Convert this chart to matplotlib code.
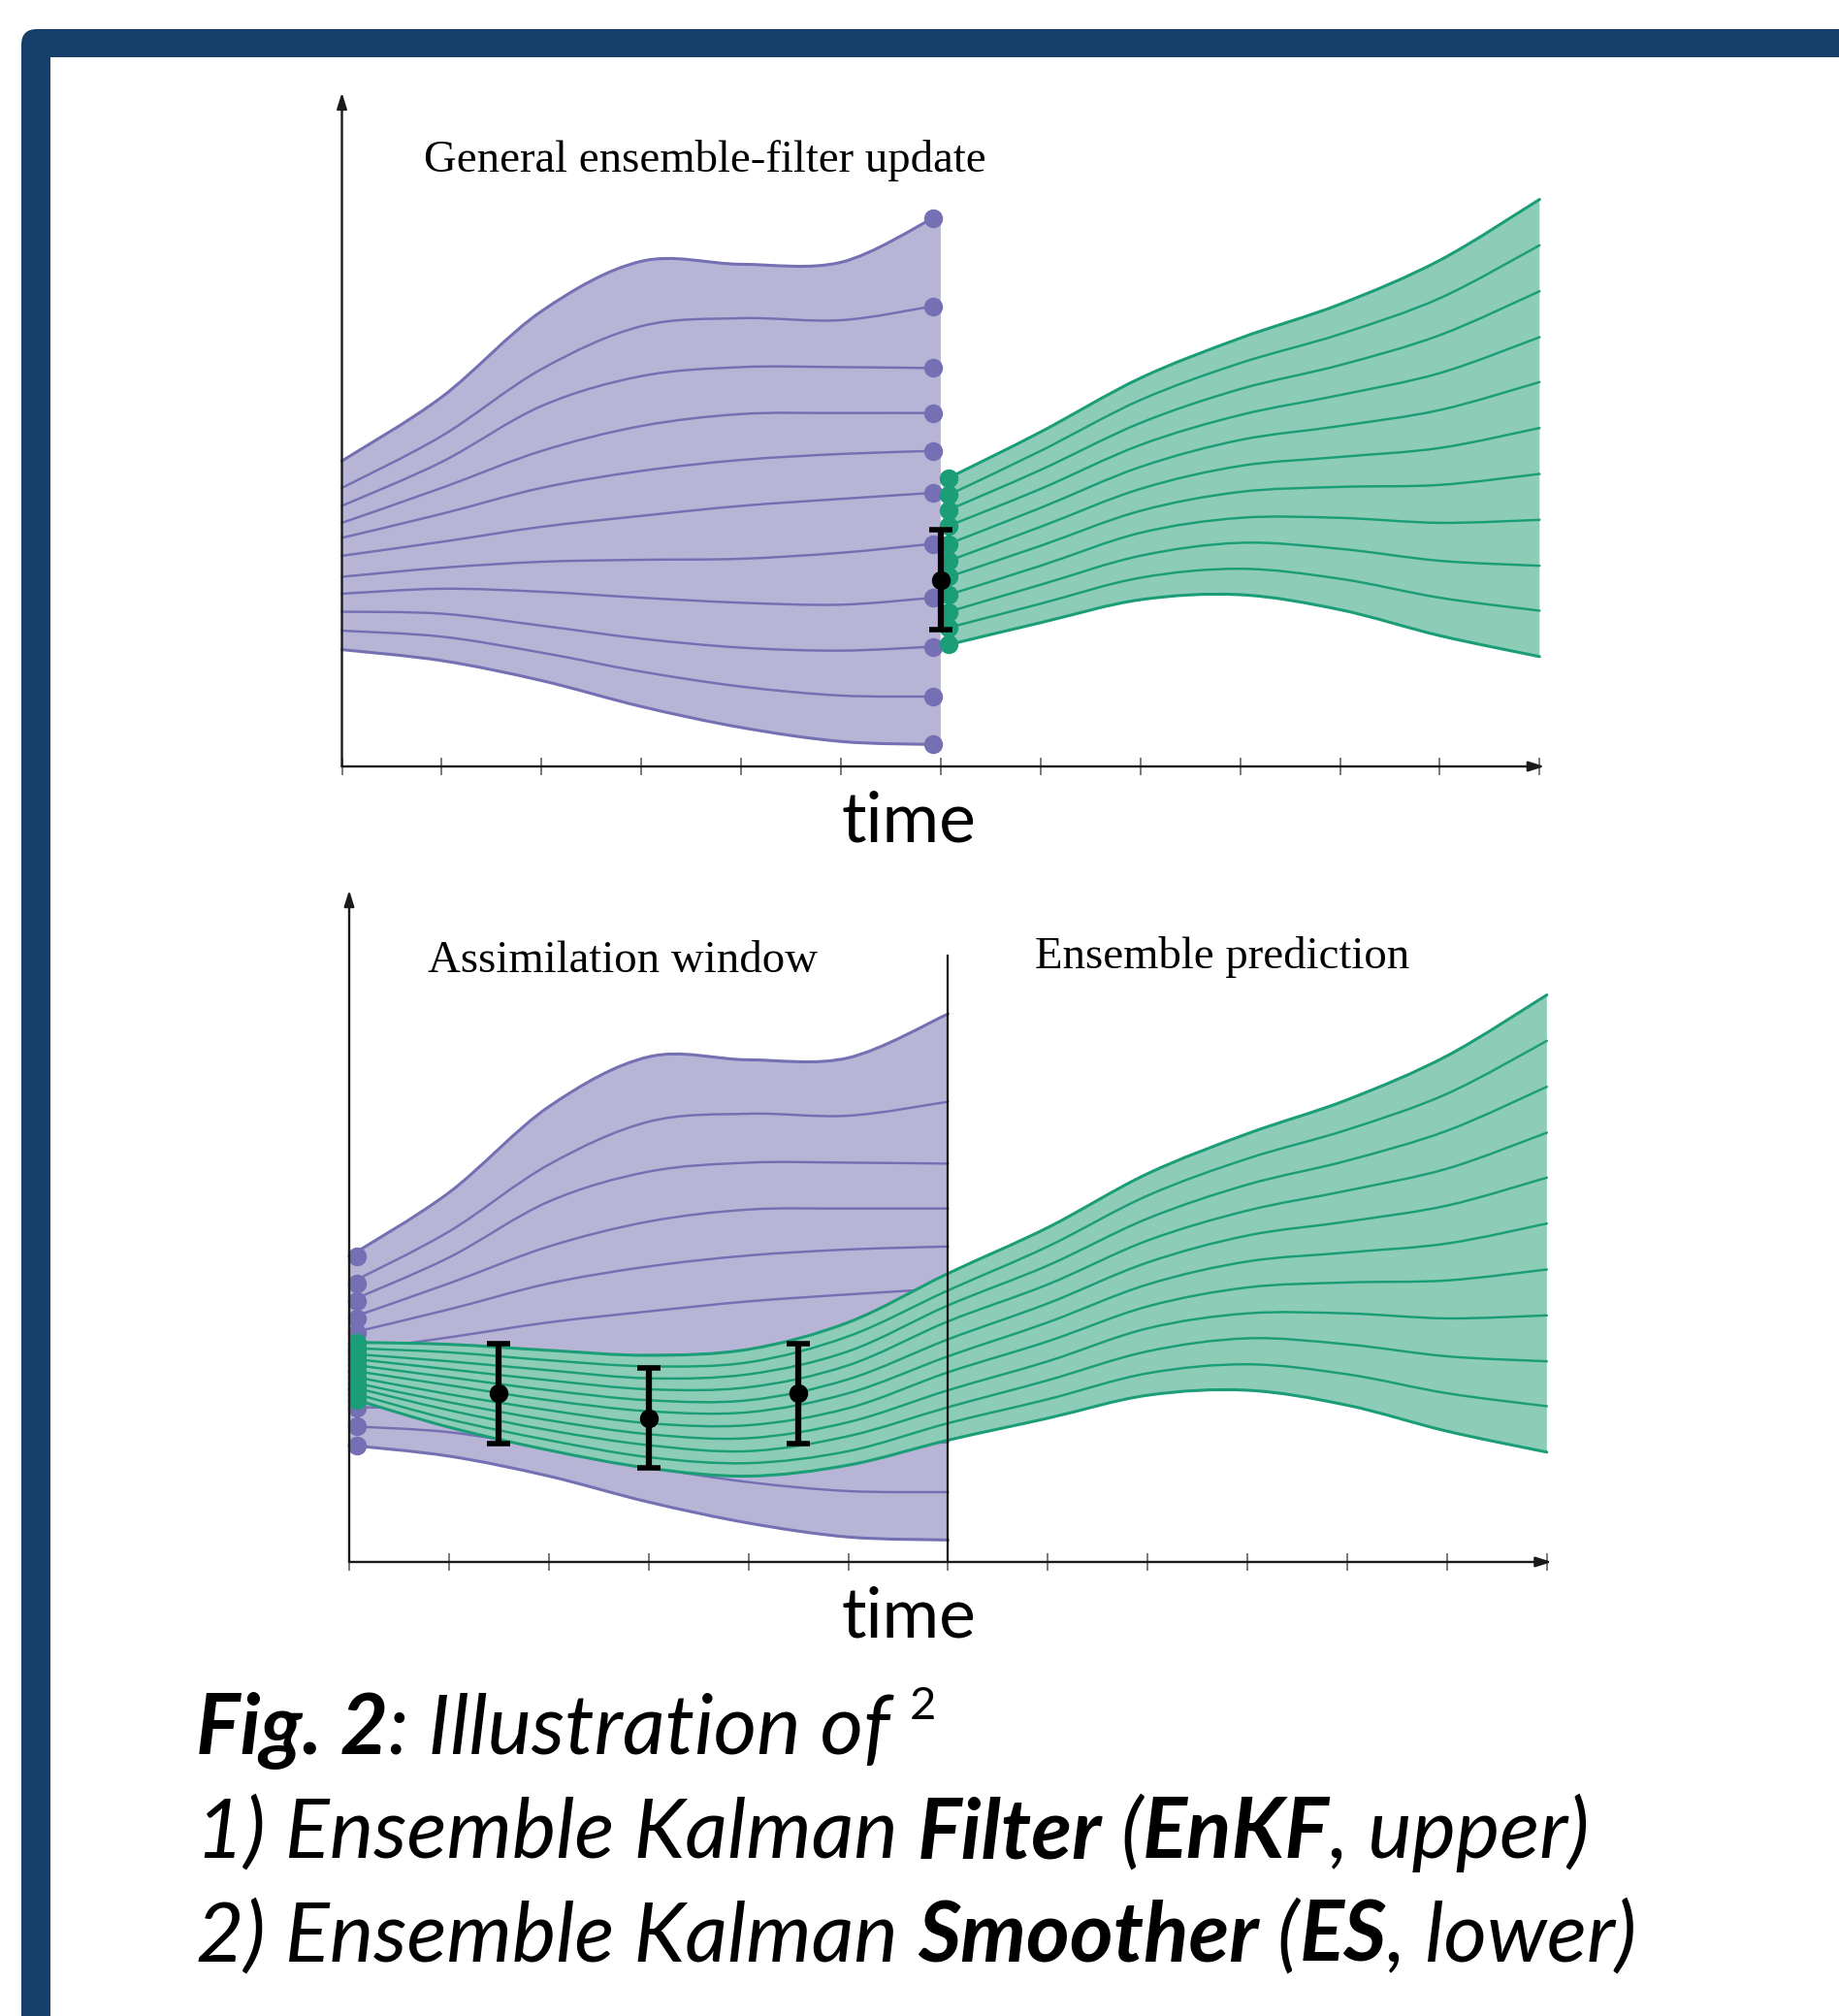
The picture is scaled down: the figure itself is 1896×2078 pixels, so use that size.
import numpy as np
import matplotlib
matplotlib.use("Agg")
import matplotlib.pyplot as plt
from matplotlib.path import Path
from matplotlib.patches import PathPatch, FancyBboxPatch, Rectangle
from matplotlib.transforms import IdentityTransform
from matplotlib.font_manager import FontProperties

# ---------------------------------------------------------------- data
TICK_TIMES = list(range(13))

# prior ensemble (purple), 11 members, values at the knot times
PRIOR_TIMES_FILTER = [0, 1, 2, 3, 4, 5, 5.92]
PRIOR_TIMES_SMOOTHER = [0, 1, 2, 3, 4, 5, 6]
PRIOR_MEMBERS = [
    [3.06, 3.70, 4.56, 5.06, 5.03, 5.05, 5.49],
    [2.79, 3.31, 3.98, 4.41, 4.49, 4.47, 4.61],
    [2.61, 3.05, 3.61, 3.91, 4.00, 4.00, 3.99],
    [2.44, 2.79, 3.16, 3.41, 3.53, 3.54, 3.54],
    [2.29, 2.53, 2.79, 2.96, 3.07, 3.13, 3.16],
    [2.11, 2.25, 2.40, 2.51, 2.61, 2.68, 2.74],
    [1.90, 1.99, 2.05, 2.07, 2.08, 2.14, 2.23],
    [1.73, 1.78, 1.75, 1.69, 1.64, 1.62, 1.69],
    [1.55, 1.53, 1.41, 1.28, 1.19, 1.16, 1.20],
    [1.36, 1.30, 1.14, 0.95, 0.80, 0.71, 0.70],
    [1.17, 1.06, 0.86, 0.60, 0.39, 0.25, 0.22],
]
PRIOR_DOT_TIME_FILTER = 5.92
PRIOR_DOT_TIME_SMOOTHER = 0.08

# forecast ensemble (green) after the update
FORECAST_TIMES_FILTER = [6.08, 7, 8, 9, 10, 11, 12]
FORECAST_TIMES_SMOOTHER = [6, 7, 8, 9, 10, 11, 12]
FORECAST_MEMBERS = [
    [2.89, 3.35, 3.89, 4.29, 4.63, 5.07, 5.68],
    [2.72, 3.16, 3.67, 4.04, 4.33, 4.69, 5.22],
    [2.57, 2.97, 3.44, 3.78, 4.02, 4.32, 4.76],
    [2.41, 2.78, 3.22, 3.52, 3.72, 3.94, 4.30],
    [2.23, 2.59, 3.00, 3.27, 3.41, 3.57, 3.85],
    [2.06, 2.40, 2.78, 3.01, 3.10, 3.19, 3.39],
    [1.90, 2.21, 2.56, 2.75, 2.80, 2.82, 2.93],
    [1.72, 2.01, 2.34, 2.49, 2.49, 2.44, 2.47],
    [1.55, 1.82, 2.11, 2.24, 2.18, 2.06, 2.01],
    [1.39, 1.63, 1.89, 1.98, 1.88, 1.69, 1.56],
    [1.22, 1.44, 1.67, 1.72, 1.57, 1.31, 1.10],
]
FORECAST_DOT_TIME_FILTER = 6.08

# smoother analysis ensemble (green) inside the assimilation window
ANALYSIS_TIMES = [0.08, 1, 2, 3, 4, 5]
ANALYSIS_MEMBERS = [
    [2.20, 2.18, 2.12, 2.07, 2.13, 2.40],
    [2.14, 2.10, 2.02, 1.96, 2.00, 2.26],
    [2.08, 2.01, 1.92, 1.84, 1.88, 2.11],
    [2.03, 1.93, 1.82, 1.73, 1.75, 1.97],
    [1.97, 1.85, 1.72, 1.62, 1.62, 1.83],
    [1.91, 1.77, 1.62, 1.51, 1.50, 1.69],
    [1.85, 1.68, 1.52, 1.39, 1.37, 1.54],
    [1.79, 1.60, 1.42, 1.28, 1.24, 1.40],
    [1.74, 1.52, 1.32, 1.17, 1.11, 1.26],
    [1.68, 1.43, 1.22, 1.05, 0.99, 1.11],
    [1.62, 1.35, 1.12, 0.94, 0.86, 0.97],
]
ANALYSIS_DOT_TIME = 0.08

# observations with error bars
OBS_FILTER_T = [6.0]
OBS_FILTER_Y = [1.87]
OBS_FILTER_ERR = [0.5]
OBS_SMOOTHER_T = [1.5, 3.0, 4.5]
OBS_SMOOTHER_Y = [1.69, 1.44, 1.69]
OBS_SMOOTHER_ERR = [0.5, 0.5, 0.5]

WINDOW_END = 6.0
TITLE_TOP = "General ensemble-filter update"
LABEL_WINDOW = "Assimilation window"
LABEL_PREDICTION = "Ensemble prediction"
X_LABEL = "time"
CAPTION_LINES = [
    [("Fig. 2", "bold"), (": Illustration of ", "normal"), ("2", "sup")],
    [("1) Ensemble Kalman ", "normal"), ("Filter", "bold"), (" (", "normal"),
     ("EnKF", "bold"), (", upper)", "normal")],
    [("2) Ensemble Kalman ", "normal"), ("Smoother", "bold"), (" (", "normal"),
     ("ES", "bold"), (", lower)", "normal")],
]

# ---------------------------------------------------------------- style
W_PX, H_PX, DPI = 1896, 2078, 100
NAVY = "#173f6b"
P_LINE, P_FILL = "#7570b3", "#b8b4d6"
G_LINE, G_FILL = "#1b9e77", "#8dcdb8"
UNIT = 102.9  # pixels per data unit
XLIM = (-0.4, 12.4)
YLIM = (-0.8, 7.0)
SERIF = ["Liberation Serif", "DejaVu Serif"]
SANS = ["Lato", "DejaVu Sans"]
DOT_MS = 14

fig = plt.figure(figsize=(W_PX / DPI, H_PX / DPI), dpi=DPI)
ID = IdentityTransform()

# frame
fig.add_artist(FancyBboxPatch((22, -200), W_PX + 300, H_PX - 30 + 200,
                              boxstyle="round,pad=0,rounding_size=16",
                              transform=ID, fc=NAVY, ec="none", zorder=-20))
fig.add_artist(Rectangle((52, -200), W_PX + 300, H_PX - 59 + 200,
                         transform=ID, fc="white", ec="none", zorder=-19))


def make_axes(origin_x, origin_top):
    left = origin_x + XLIM[0] * UNIT
    bottom_top = origin_top - YLIM[0] * UNIT
    w = (XLIM[1] - XLIM[0]) * UNIT
    h = (YLIM[1] - YLIM[0]) * UNIT
    ax = fig.add_axes([left / W_PX, 1 - bottom_top / H_PX, w / W_PX, h / H_PX])
    ax.set_xlim(XLIM)
    ax.set_ylim(YLIM)
    ax.patch.set_visible(False)
    for s in ax.spines.values():
        s.set_visible(False)
    ax.spines["bottom"].set_position(("data", 0))
    ax.set_xticks(TICK_TIMES)
    ax.set_yticks([])
    ax.tick_params(axis="x", direction="inout", length=13, width=1.3,
                   color="#707070", labelbottom=False)
    return ax


def draw_axis_arrows(ax, ytop):
    arrow = dict(arrowstyle="-|>,head_length=0.7,head_width=0.22", color="#1a1a1a",
                 lw=1.7, shrinkA=0, shrinkB=0, mutation_scale=14)
    ax.annotate("", xy=(12.05, 0), xytext=(0, 0), arrowprops=arrow, zorder=9)
    ax.annotate("", xy=(0, ytop), xytext=(0, 0), arrowprops=arrow, zorder=9)


def smooth_vertices(xs, ys):
    pts = np.column_stack([xs, ys]).astype(float)
    n = len(pts)
    verts = [pts[0]]
    for i in range(n - 1):
        p0 = pts[i - 1] if i > 0 else pts[i]
        p1, p2 = pts[i], pts[i + 1]
        p3 = pts[i + 2] if i + 2 < n else pts[i + 1]
        verts += [p1 + (p2 - p0) / 6.0, p2 - (p3 - p1) / 6.0, p2]
    return np.array(verts)


def draw_member(ax, xs, ys, color, lw, z):
    v = smooth_vertices(xs, ys)
    codes = [Path.MOVETO] + [Path.CURVE4] * (len(v) - 1)
    ax.add_patch(PathPatch(Path(v, codes), fill=False, ec=color, lw=lw,
                           zorder=z, capstyle="round"))


def draw_band(ax, xs, top, bot, color, z, right_x=None):
    vt = smooth_vertices(xs, top)
    vb = smooth_vertices(xs, bot)[::-1]
    verts = list(vt)
    codes = [Path.MOVETO] + [Path.CURVE4] * (len(vt) - 1)
    if right_x is not None:
        verts += [(right_x, vt[-1][1]), (right_x, vb[0][1])]
        codes += [Path.LINETO, Path.LINETO]
    verts.append(vb[0]); codes.append(Path.LINETO)
    verts += list(vb[1:]); codes += [Path.CURVE4] * (len(vb) - 1)
    verts.append(vt[0]); codes.append(Path.CLOSEPOLY)
    ax.add_patch(PathPatch(Path(np.array(verts), codes), fc=color, ec="none", zorder=z))


def draw_ensemble(ax, xs, members, line_c, fill_c, z, right_x=None):
    draw_band(ax, xs, members[0], members[-1], fill_c, z, right_x)
    for i, m in enumerate(members):
        edge = i in (0, len(members) - 1)
        draw_member(ax, xs, m, line_c, 2.2 if edge else 1.75, z + 0.5)


# ---------------------------------------------------------------- top: filter
ax1 = make_axes(352.5, 790)
draw_ensemble(ax1, PRIOR_TIMES_FILTER, PRIOR_MEMBERS, P_LINE, P_FILL, 1, right_x=6.0)
ax1.plot([PRIOR_DOT_TIME_FILTER] * len(PRIOR_MEMBERS), [m[-1] for m in PRIOR_MEMBERS],
         "o", ms=DOT_MS, color=P_LINE, mec="none", zorder=3)
draw_ensemble(ax1, FORECAST_TIMES_FILTER, FORECAST_MEMBERS, G_LINE, G_FILL, 4)
ax1.plot([FORECAST_DOT_TIME_FILTER] * len(FORECAST_MEMBERS), [m[0] for m in FORECAST_MEMBERS],
         "o", ms=DOT_MS, color=G_LINE, mec="none", zorder=6)
ax1.errorbar(OBS_FILTER_T, OBS_FILTER_Y, yerr=OBS_FILTER_ERR, fmt="o", color="black",
             ms=13, elinewidth=4.5, capsize=8.5, capthick=4, zorder=10)
draw_axis_arrows(ax1, 6.75)

# ---------------------------------------------------------------- bottom: smoother
ax2 = make_axes(360, 1610)
draw_ensemble(ax2, PRIOR_TIMES_SMOOTHER, PRIOR_MEMBERS, P_LINE, P_FILL, 1)
ax2.plot([PRIOR_DOT_TIME_SMOOTHER] * len(PRIOR_MEMBERS), [m[0] for m in PRIOR_MEMBERS],
         "o", ms=DOT_MS, color=P_LINE, mec="none", zorder=3)
smoother_times = ANALYSIS_TIMES + FORECAST_TIMES_SMOOTHER
smoother_members = [a + f for a, f in zip(ANALYSIS_MEMBERS, FORECAST_MEMBERS)]
draw_ensemble(ax2, smoother_times, smoother_members, G_LINE, G_FILL, 4)
ax2.plot([ANALYSIS_DOT_TIME] * len(ANALYSIS_MEMBERS), [m[0] for m in ANALYSIS_MEMBERS],
         "o", ms=DOT_MS, color=G_LINE, mec="none", zorder=6)
ax2.errorbar(OBS_SMOOTHER_T, OBS_SMOOTHER_Y, yerr=OBS_SMOOTHER_ERR, fmt="o", color="black",
             ms=13, elinewidth=4.5, capsize=8.5, capthick=4, zorder=10)
ax2.plot([WINDOW_END, WINDOW_END], [0, 6.07], color="#111111", lw=1.6, zorder=8)
draw_axis_arrows(ax2, 6.73)

# ---------------------------------------------------------------- texts
renderer = fig.canvas.get_renderer()


def ptext(x, y_top, s, **kw):
    return fig.text(x, H_PX - y_top, s, transform=ID, **kw)


def measure(s, fp):
    t = fig.text(0, 0, s + "|", fontproperties=fp)
    w1 = t.get_window_extent(renderer).width
    t.set_text("|")
    w2 = t.get_window_extent(renderer).width
    t.remove()
    return w1 - w2


serif_fp = FontProperties(family=SERIF, size=33.7)
ptext(437, 177, TITLE_TOP, fontproperties=serif_fp, va="baseline", ha="left")
ptext(441, 1002, LABEL_WINDOW, fontproperties=serif_fp, va="baseline", ha="left")
ptext(1067, 998, LABEL_PREDICTION, fontproperties=serif_fp, va="baseline", ha="left")

time_fp = FontProperties(family=SANS, size=100)
time_size = 100 * 139 / measure(X_LABEL, time_fp)
time_fp = FontProperties(family=SANS, size=time_size)
ptext(937, 867, X_LABEL, fontproperties=time_fp, va="baseline", ha="center")
ptext(937, 1687, X_LABEL, fontproperties=time_fp, va="baseline", ha="center")


def cap_fp(kind, size):
    if kind == "sup":
        return FontProperties(family=SANS, size=size * 0.55)
    return FontProperties(family=SANS, style="italic",
                          weight="bold" if kind == "bold" else "normal", size=size)


w2 = sum(measure(s, cap_fp(k, 100)) for s, k in CAPTION_LINES[1])
w3 = sum(measure(s, cap_fp(k, 100)) for s, k in CAPTION_LINES[2])
cap_size = 100 * (1428 + 1494) / (w2 + w3)
baselines = [1808, 1915, 2022]
for line, base in zip(CAPTION_LINES, baselines):
    x = 202
    for s, kind in line:
        fp = cap_fp(kind, cap_size)
        y = base - (0.42 * cap_size * DPI / 72 if kind == "sup" else 0)
        ptext(x, y, s, fontproperties=fp, va="baseline", ha="left")
        x += measure(s, fp)

fig.savefig("out.png", dpi=DPI)
